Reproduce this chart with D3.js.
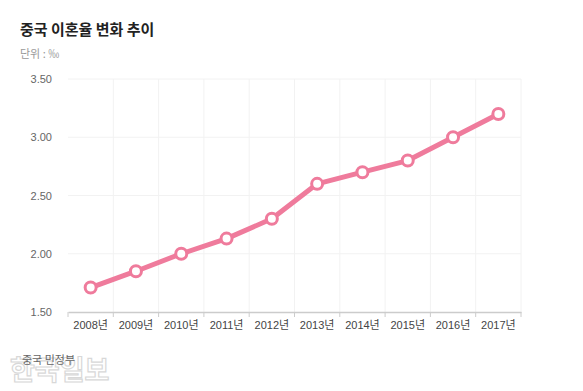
<!DOCTYPE html>
<html><head><meta charset="utf-8">
<script src="https://cdn.jsdelivr.net/npm/d3@7"></script>
<style>body{margin:0;background:#fff;font-family:"Noto Sans CJK KR","Noto Sans",sans-serif;}</style>
</head><body>
<svg id="c" width="583" height="391"></svg>
<script>
const years = ["2008년","2009년","2010년","2011년","2012년","2013년","2014년","2015년","2016년","2017년"];
const rates = [1.71,1.85,2.00,2.13,2.30,2.60,2.70,2.80,3.00,3.20];
const yTicks = [1.5,2.0,2.5,3.0,3.5];
const title = "중국 이혼율 변화 추이";
const unit = "단위 : ‰";
const source = "중국 민정부";
const watermark = "한국일보";

const svg = d3.select("#c");
const m = {l:68, r:521, t:79, b:312};
const x = d3.scaleBand().domain(years).range([m.l, m.r]);
const y = d3.scaleLinear().domain([1.5,3.5]).range([m.b, m.t]);

// watermark
svg.append("text").attr("x",10).attr("y",380).text(watermark)
  .attr("font-size",27).attr("font-weight","bold").attr("fill","#fff")
  .attr("stroke","#d8d8d8").attr("stroke-width",1.2);

// title
svg.append("text").attr("x",20).attr("y",35).text(title)
  .attr("font-size",15).attr("font-weight","bold").attr("fill","#222");
svg.append("text").attr("x",20).attr("y",58).text(unit)
  .attr("font-size",11).attr("fill","#999");

// grid
svg.append("g").selectAll("line").data(yTicks.slice(1)).join("line")
  .attr("x1",m.l).attr("x2",m.r).attr("y1",d=>y(d)).attr("y2",d=>y(d))
  .attr("stroke","#f2f2f2").attr("stroke-width",1);
const bounds = years.slice(1).map(d=>x(d));
bounds.push(m.r);
svg.append("g").selectAll("line").data(bounds).join("line")
  .attr("x1",d=>d).attr("x2",d=>d).attr("y1",m.t).attr("y2",m.b)
  .attr("stroke","#f2f2f2").attr("stroke-width",1);

// y labels
svg.append("g").selectAll("text").data(yTicks).join("text")
  .attr("x",52).attr("y",d=>y(d)+4).attr("text-anchor","end")
  .attr("font-size",11).attr("fill","#666").attr("font-family","Arial, 'Liberation Sans', sans-serif")
  .text(d=>d3.format(".2f")(d));

// x axis
const xa = svg.append("g").attr("transform",`translate(0,${m.b})`)
  .call(d3.axisBottom(x).tickSize(0).tickPadding(9));
xa.select(".domain").attr("stroke","#ccc").attr("stroke-width",1.5);
xa.selectAll("text").attr("font-size",11).attr("fill","#444")
  .attr("font-family","Arial, 'Liberation Sans', 'Noto Sans CJK KR', sans-serif");
const tb = [m.l, ...bounds];
svg.append("g").selectAll("line").data(tb).join("line")
  .attr("x1",d=>d).attr("x2",d=>d).attr("y1",m.b).attr("y2",m.b+5)
  .attr("stroke","#ccc").attr("stroke-width",1);

// line
const cx = d=>x(d)+x.bandwidth()/2;
const pts = years.map((d,i)=>[cx(d), y(rates[i])]);
svg.append("path").datum(pts).attr("d",d3.line())
  .attr("fill","none").attr("stroke","#ef7b9c").attr("stroke-width",5)
  .attr("stroke-linejoin","round");
svg.append("g").selectAll("circle").data(pts).join("circle")
  .attr("cx",d=>d[0]).attr("cy",d=>d[1]).attr("r",5.5)
  .attr("fill","#fff").attr("stroke","#ef7b9c").attr("stroke-width",3);

// source
svg.append("text").attr("x",22).attr("y",364).text(source)
  .attr("font-size",11).attr("fill","#666");
</script>
</body></html>
